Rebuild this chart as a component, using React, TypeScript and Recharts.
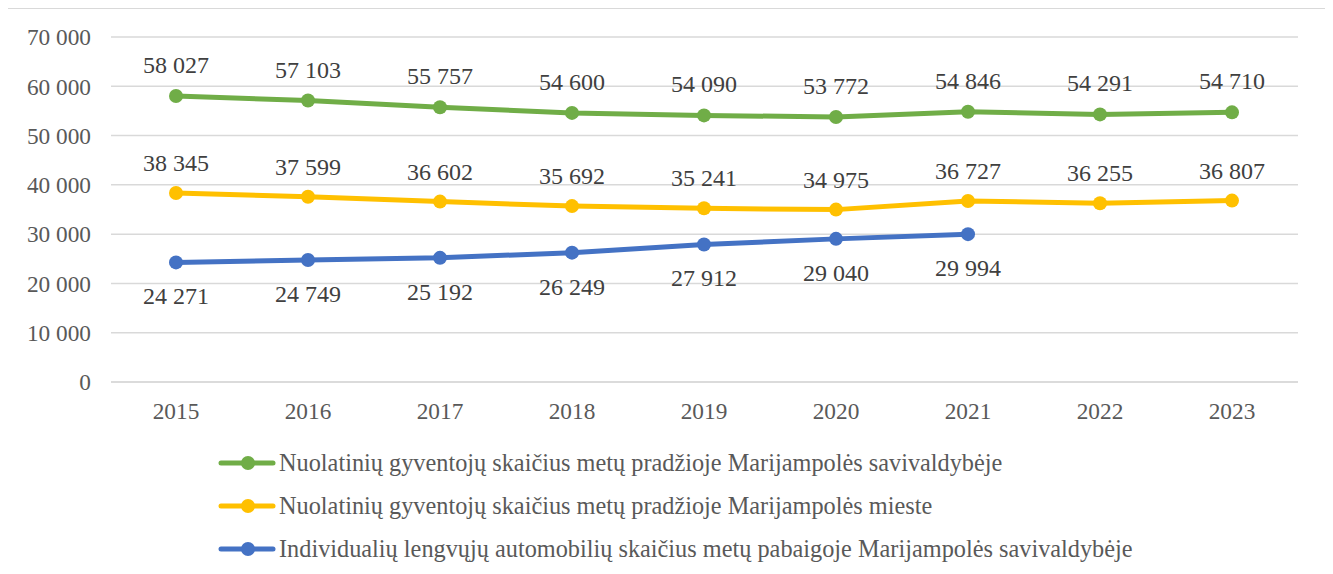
import React from 'react';
import { LineChart, Line, XAxis, YAxis, CartesianGrid, LabelList } from 'recharts';

const years = ['2015', '2016', '2017', '2018', '2019', '2020', '2021', '2022', '2023'];
const municipality = [58027, 57103, 55757, 54600, 54090, 53772, 54846, 54291, 54710];
const city = [38345, 37599, 36602, 35692, 35241, 34975, 36727, 36255, 36807];
const cars = [24271, 24749, 25192, 26249, 27912, 29040, 29994, null, null];
const yTicks = [0, 10000, 20000, 30000, 40000, 50000, 60000, 70000];

const seriesNames = [
  'Nuolatinių gyventojų skaičius metų pradžioje Marijampolės savivaldybėje',
  'Nuolatinių gyventojų skaičius metų pradžioje Marijampolės mieste',
  'Individualių lengvųjų automobilių skaičius metų pabaigoje Marijampolės savivaldybėje',
];
const colors = ['#70ad47', '#ffc000', '#4472c4'];

const chartData = years.map((y, i) => ({
  year: y,
  municipality: municipality[i],
  city: city[i],
  cars: cars[i],
}));

const fmt = (v: any) => (v == null ? '' : Number(v).toLocaleString('en-US').replace(/,/g, ' '));

const FONT = "Liberation Serif, DejaVu Serif, serif";

// legend drawn as plain html under the plot
const LegendRows = () => (
  <div style={{ position: 'absolute', left: 217, top: 441, fontFamily: FONT, fontSize: 24.3, color: '#595959' }}>
    {seriesNames.map((name, i) => (
      <div key={i} style={{ display: 'flex', alignItems: 'center', height: 43, whiteSpace: 'nowrap' }}>
        <svg width={60} height={20} style={{ marginRight: 2 }}>
          <line x1={4} y1={10} x2={56} y2={10} stroke={colors[i]} strokeWidth={5} strokeLinecap="round" />
          <circle cx={31} cy={10} r={7} fill={colors[i]} />
        </svg>
        <span>{name}</span>
      </div>
    ))}
  </div>
);

export default function App() {
  const labelStyle = { fontFamily: FONT, fontSize: 24, fill: '#404040' };
  const tickStyle = { fill: '#595959', fontSize: 23.3, fontFamily: FONT };
  return (
    <div style={{ margin: -8, width: 1333, height: 574, position: 'relative', background: '#fff', fontFamily: FONT, overflow: 'hidden' }}>
      <LineChart
        width={1333}
        height={574}
        data={chartData}
        margin={{ top: 37, right: 35, bottom: 142, left: 11 }}
        style={{ fontFamily: FONT }}
      >
        <CartesianGrid vertical={false} stroke="#d9d9d9" strokeWidth={1.5} />
        <XAxis
          dataKey="year"
          padding={{ left: 65, right: 66 }}
          tickLine={false}
          axisLine={{ stroke: '#d9d9d9', strokeWidth: 1.5 }}
          tick={tickStyle}
          tickMargin={14}
          height={50}
        />
        <YAxis
          width={100}
          domain={[0, 70000]}
          ticks={yTicks}
          tickFormatter={fmt}
          tickLine={false}
          axisLine={false}
          tick={tickStyle}
          tickMargin={14}
        />
        <Line
          dataKey="municipality"
          name={seriesNames[0]}
          stroke={colors[0]}
          strokeWidth={5}
          dot={{ r: 7, fill: colors[0], stroke: colors[0], strokeWidth: 0 }}
          isAnimationActive={false}
        >
          <LabelList dataKey="municipality" position="top" offset={23} formatter={fmt} style={labelStyle} />
        </Line>
        <Line
          dataKey="city"
          name={seriesNames[1]}
          stroke={colors[1]}
          strokeWidth={5}
          dot={{ r: 7, fill: colors[1], stroke: colors[1], strokeWidth: 0 }}
          isAnimationActive={false}
        >
          <LabelList dataKey="city" position="top" offset={22} formatter={fmt} style={labelStyle} />
        </Line>
        <Line
          dataKey="cars"
          name={seriesNames[2]}
          stroke={colors[2]}
          strokeWidth={5}
          dot={{ r: 7, fill: colors[2], stroke: colors[2], strokeWidth: 0 }}
          isAnimationActive={false}
        >
          <LabelList dataKey="cars" position="bottom" offset={25} formatter={fmt} style={labelStyle} />
        </Line>
      </LineChart>
      <LegendRows />
      <div style={{ position: 'absolute', left: 7, top: 8, width: 1320, height: 600, border: '1.5px solid #d9d9d9', boxSizing: 'border-box', pointerEvents: 'none' }} />
    </div>
  );
}
